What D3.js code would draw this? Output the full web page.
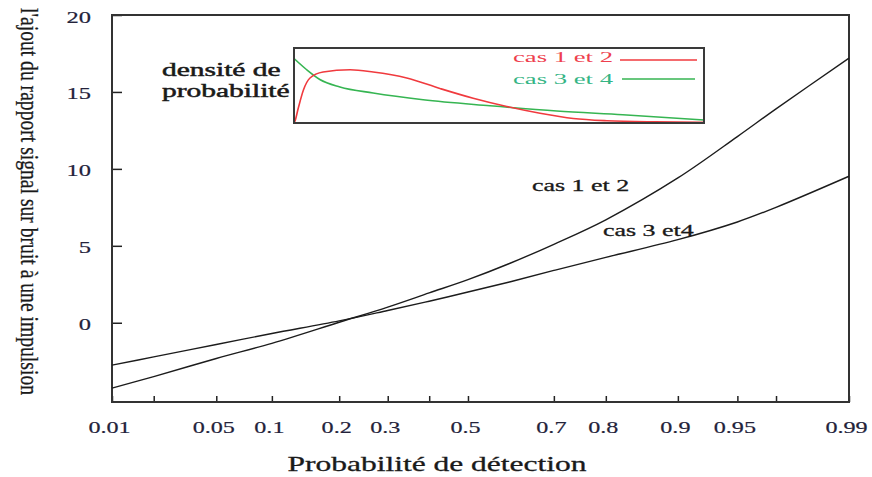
<!DOCTYPE html>
<html>
<head>
<meta charset="utf-8">
<script src="https://cdn.jsdelivr.net/npm/d3@7"></script>
<style>
  body { margin: 0; background: #fff; }
  text { font-family: "Liberation Serif", "DejaVu Serif", serif; }
</style>
</head>
<body>
<svg id="chart" width="872" height="477"></svg>
<script>
// main chart: probability of detection vs added SNR (dB)
const probs = [0.01, 0.02, 0.05, 0.1, 0.2, 0.3, 0.4, 0.5, 0.6, 0.7, 0.8, 0.9, 0.95, 0.97, 0.99];
const cas12 = [-4.25, -3.5, -2.32, -1.34, 0.03, 1.02, 1.94, 2.8, 3.85, 5.1, 6.69, 9.41, 12.1, 13.9, 17.2];
const cas34 = [-2.75, -2.22, -1.41, -0.7, 0.12, 0.8, 1.4, 2.0, 2.65, 3.4, 4.25, 5.4, 6.55, 7.5, 9.52];
const xTickLabels = [0.01, 0.05, 0.1, 0.2, 0.3, 0.5, 0.7, 0.8, 0.9, 0.95, 0.99];
const xTickMinor = [0.02, 0.4, 0.97];
const yTicks = [0, 5, 10, 15, 20];

// inset: probability densities (arbitrary units)
const insetX12 = [0, 0.02, 0.105, 0.23, 0.39, 0.71, 1.37, 1.93, 2.75, 3.56, 4.37, 5.19, 6.0, 6.81, 7.63, 8.8, 10];
const insetY12 = [0, 0.02, 0.2, 0.44, 0.6, 0.68, 0.71, 0.68, 0.6, 0.46, 0.33, 0.22, 0.13, 0.06, 0.03, 0.015, 0.01];
const insetX34 = [0, 0.31, 0.63, 1.12, 1.93, 3.15, 4.78, 6.41, 8.02, 10];
const insetY34 = [0.86, 0.71, 0.58, 0.48, 0.4, 0.31, 0.23, 0.16, 0.11, 0.04];

// inverse normal CDF (Acklam) for the probability axis
function probit(p) {
  const a = [-39.69683028665376, 220.9460984245205, -275.9285104469687, 138.357751867269, -30.66479806614716, 2.506628277459239];
  const b = [-54.47609879822406, 161.5858368580409, -155.6989798598866, 66.80131188771972, -13.28068155288572];
  const c = [-0.007784894002430293, -0.3223964580411365, -2.400758277161838, -2.549732539343734, 4.374664141464968, 2.938163982698783];
  const d = [0.007784695709041462, 0.3224671290700398, 2.445134137142996, 3.754408661907416];
  const pl = 0.02425;
  let q, r;
  if (p < pl) {
    q = Math.sqrt(-2 * Math.log(p));
    return (((((c[0] * q + c[1]) * q + c[2]) * q + c[3]) * q + c[4]) * q + c[5]) /
      ((((d[0] * q + d[1]) * q + d[2]) * q + d[3]) * q + 1);
  }
  if (p > 1 - pl) {
    q = Math.sqrt(-2 * Math.log(1 - p));
    return -(((((c[0] * q + c[1]) * q + c[2]) * q + c[3]) * q + c[4]) * q + c[5]) /
      ((((d[0] * q + d[1]) * q + d[2]) * q + d[3]) * q + 1);
  }
  q = p - 0.5;
  r = q * q;
  return (((((a[0] * r + a[1]) * r + a[2]) * r + a[3]) * r + a[4]) * r + a[5]) * q /
    (((((b[0] * r + b[1]) * r + b[2]) * r + b[3]) * r + b[4]) * r + 1);
}

const marginLeft = 112;
const marginTop = 15;
const width = 737;
const height = 387;
const ink = "#1a1a1a";

const svg = d3.select("#chart");

// stretch text horizontally like the reference
const stretch = (sel, k) => {
  sel.each(function () {
    const w = this.getComputedTextLength();
    d3.select(this).attr("textLength", w * k).attr("lengthAdjust", "spacingAndGlyphs");
  });
};

const xz = d3
  .scaleLinear()
  .domain([probit(0.01), 0, probit(0.99)])
  .range([0, width * 0.483, width]);
const xp = (p) => xz(probit(p));
const yScale = d3.scaleLinear().domain([-5.15, 20]).range([height, 0]);

const g = svg.append("g").attr("transform", `translate(${marginLeft}, ${marginTop})`);

// x axis
const xAxis = d3
  .axisBottom(xz)
  .tickValues(xTickLabels.map(probit))
  .tickFormat((z, i) => xTickLabels[i])
  .tickSizeInner(-6)
  .tickSizeOuter(0)
  .tickPadding(19);
const xg = g.append("g").attr("transform", `translate(0, ${height})`).call(xAxis);
xg.select(".domain").remove();
xg.selectAll("line").attr("stroke", "#222").attr("stroke-width", 1.5);
xg.selectAll("text")
  .attr("font-family", "Liberation Serif")
  .attr("font-size", 17.5)
  .attr("fill", "#23223a")
  .attr("stroke", "#23223a")
  .attr("stroke-width", 0.2)
  .attr("dx", -3)
  .call(stretch, 1.38);

const xMinor = d3
  .axisBottom(xz)
  .tickValues(xTickMinor.map(probit))
  .tickFormat("")
  .tickSizeInner(-6)
  .tickSizeOuter(0);
const xmg = g.append("g").attr("transform", `translate(0, ${height})`).call(xMinor);
xmg.select(".domain").remove();
xmg.selectAll("line").attr("stroke", "#222").attr("stroke-width", 1.5);

// y axis
const yAxis = d3
  .axisLeft(yScale)
  .tickValues(yTicks)
  .tickSizeInner(-10)
  .tickSizeOuter(0)
  .tickPadding(21);
const yg = g.append("g").call(yAxis);
yg.select(".domain").remove();
yg.selectAll("line").attr("stroke", "#222").attr("stroke-width", 1.5);
yg.selectAll("text")
  .attr("font-family", "Liberation Serif")
  .attr("font-size", 17.5)
  .attr("fill", "#23223a")
  .attr("stroke", "#23223a")
  .attr("stroke-width", 0.2)
  .attr("dy", "0.4em")
  .call(stretch, 1.4);

// frame
g.append("rect")
  .attr("width", width)
  .attr("height", height)
  .attr("fill", "none")
  .attr("stroke", "#333")
  .attr("stroke-width", 2);

// curves
const lineFunc = d3
  .line()
  .x((d) => xp(d.p))
  .y((d) => yScale(d.v))
  .curve(d3.curveCatmullRom.alpha(0.5));
const makePath = (vals) => {
  g.append("path")
    .datum(probs.map((p, i) => ({ p, v: vals[i] })))
    .attr("fill", "none")
    .attr("stroke", "#1c1c1c")
    .attr("stroke-width", 1.4)
    .attr("d", lineFunc);
};
makePath(cas12);
makePath(cas34);

const label = (x, y, size, txt) =>
  svg.append("text")
    .attr("x", x)
    .attr("y", y)
    .attr("font-size", size)
    .attr("fill", ink)
    .attr("stroke", ink)
    .attr("stroke-width", 0.3)
    .text(txt);

// curve annotations
label(532, 191, 16, "cas 1 et 2").call(stretch, 1.62);
label(603, 236, 16, "cas 3 et4").call(stretch, 1.62);

// axis titles
label(437, 471, 21, "Probabilité de détection")
  .attr("text-anchor", "middle")
  .call(stretch, 1.5);

svg.append("text")
  .attr("transform", "translate(21, 8) scale(1.45, 1) rotate(90)")
  .attr("font-size", 17)
  .attr("fill", ink)
  .attr("stroke", ink)
  .attr("stroke-width", 0.2)
  .attr("textLength", 387)
  .attr("lengthAdjust", "spacingAndGlyphs")
  .text("l'ajout du rapport signal sur bruit à une impulsion");

// inset
const inset = { x: 294, y: 48, w: 410, h: 75 };
const ix = d3.scaleLinear().domain([0, 10]).range([inset.x, inset.x + inset.w]);
const iy = d3.scaleLinear().domain([0, 1]).range([inset.y + inset.h, inset.y]);

label(162, 76, 19, "densité de").attr("stroke-width", 0.5).call(stretch, 1.55);
label(162, 96.5, 19, "probabilité").attr("stroke-width", 0.5).call(stretch, 1.55);

const insetLine = d3
  .line()
  .x((d) => ix(d[0]))
  .y((d) => iy(d[1]))
  .curve(d3.curveMonotoneX);
svg.append("path")
  .datum(insetX34.map((x, i) => [x, insetY34[i]]))
  .attr("fill", "none")
  .attr("stroke", "#36b552")
  .attr("stroke-width", 1.6)
  .attr("d", insetLine);
svg.append("path")
  .datum(insetX12.map((x, i) => [x, insetY12[i]]))
  .attr("fill", "none")
  .attr("stroke", "#f03a3e")
  .attr("stroke-width", 1.6)
  .attr("d", insetLine);

svg.append("rect")
  .attr("x", inset.x)
  .attr("y", inset.y)
  .attr("width", inset.w)
  .attr("height", inset.h)
  .attr("fill", "none")
  .attr("stroke", "#3a3a3a")
  .attr("stroke-width", 2);

// inset legend
const legend = [
  { label: "cas 1 et 2", color: "#f03a3e", text: "#ee3f4e", y: 60, ty: 61.5, x1: 620, x2: 697 },
  { label: "cas 3 et 4", color: "#36b552", text: "#35b585", y: 79, ty: 84, x1: 622, x2: 695 },
];
legend.forEach((l) => {
  svg.append("text")
    .attr("x", 613)
    .attr("y", l.ty)
    .attr("text-anchor", "end")
    .attr("font-family", "Liberation Sans")
    .attr("font-size", 15)
    .attr("fill", l.text)
    .attr("textLength", 100)
    .attr("lengthAdjust", "spacingAndGlyphs")
    .text(l.label);
  svg.append("line")
    .attr("x1", l.x1)
    .attr("x2", l.x2)
    .attr("y1", l.y)
    .attr("y2", l.y)
    .attr("stroke", l.color)
    .attr("stroke-width", 1.6);
});
</script>
</body>
</html>
